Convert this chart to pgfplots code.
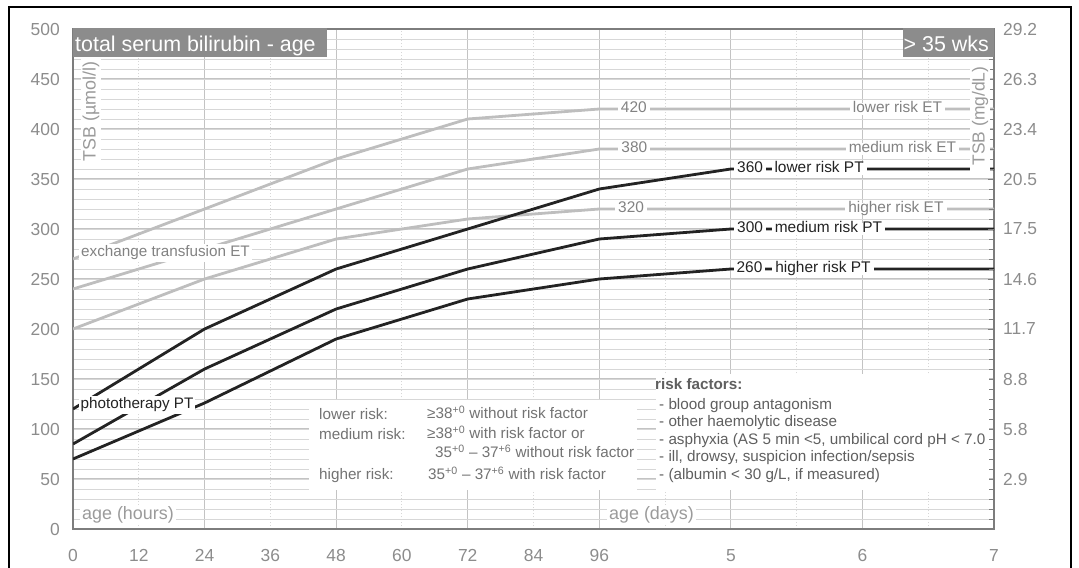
\documentclass[border=0pt]{standalone}
\usepackage{fontspec}
\setmainfont{Liberation Sans}
\usepackage{pgfplots}
\pgfplotsset{compat=1.18}
\definecolor{etgray}{RGB}{190,190,190}
\definecolor{ptblack}{RGB}{35,35,35}
\definecolor{axgray}{RGB}{125,125,125}
\definecolor{tickgray}{RGB}{140,140,140}
\definecolor{boxgray}{RGB}{140,140,140}
\definecolor{labgray}{RGB}{155,155,155}
\definecolor{etlab}{RGB}{130,130,130}
\definecolor{gridmaj}{RGB}{195,195,195}
\definecolor{gridmin}{RGB}{215,215,215}
\definecolor{legtxt}{RGB}{115,115,115}
\definecolor{risktxt}{RGB}{95,95,95}
\newcommand{\fs}[1]{\fontsize{#1}{#1}\selectfont}
\begin{document}
\begin{tikzpicture}
\begin{axis}[
  at={(73bp,39bp)}, anchor=south west,
  scale only axis, width=921bp, height=500bp,
  xmin=0, xmax=168, ymin=0, ymax=500,
  axis line style={draw=axgray, line width=2.5bp},
  xtick={0,24,48,72,96,120,144,168},
  xticklabels={0,24,48,72,96,5,6,7},
  minor xtick={12,36,60,84,108,132,156},
  extra x ticks={12,36,60,84},
  extra x tick labels={12,36,60,84},
  extra x tick style={grid=none},
  ytick={0,50,...,500},
  yticklabels={0,50,100,150,200,250,300,350,400,450,500},
  minor ytick={10,20,...,490},
  xtick pos=bottom, ytick pos=left,
  major tick length=0pt, minor tick length=0pt,
  grid=both,
  major x grid style={draw=gridmaj, line width=1bp},
  minor x grid style={draw=gridmin, line width=1bp, dotted},
  major y grid style={draw=gridmaj, line width=1bp},
  minor y grid style={draw=gridmin, line width=0.8bp},
  xticklabel style={font=\fs{17.5}, text=tickgray, inner sep=0pt, anchor=north, yshift=-20bp},
  yticklabel style={font=\fs{17.5}, text=tickgray, inner sep=0pt, anchor=east, xshift=-13bp},
  /pgf/number format/assume math mode=true,
]
% exchange transfusion lines
\addplot[etgray, line width=2.8bp, line join=round] coordinates {(0,270)(24,320)(48,370)(72,410)(96,420)(168,420)};
\addplot[etgray, line width=2.8bp, line join=round] coordinates {(0,240)(24,280)(48,320)(72,360)(96,380)(168,380)};
\addplot[etgray, line width=2.8bp, line join=round] coordinates {(0,200)(24,250)(48,290)(72,310)(96,320)(168,320)};
% phototherapy lines
\addplot[ptblack, line width=2.8bp, line join=round] coordinates {(0,120)(24,200)(48,260)(72,300)(96,340)(120,360)(168,360)};
\addplot[ptblack, line width=2.8bp, line join=round] coordinates {(0,85)(24,160)(48,220)(72,260)(96,290)(120,300)(168,300)};
\addplot[ptblack, line width=2.8bp, line join=round] coordinates {(0,70)(24,126)(48,190)(72,230)(96,250)(120,260)(168,260)};

\tikzset{lab/.style={fill=white, font=\fs{15.5}, inner xsep=3bp, inner ysep=1.5bp, text height=1.5ex, text depth=.25ex}}
\node[lab, text=etlab] at (axis cs:102.3,420) {420};
\node[lab, text=etlab] at (axis cs:102.4,380) {380};
\node[lab, text=etlab] at (axis cs:101.8,320) {320};
\node[lab, text=etlab] at (axis cs:150.4,420) {lower risk ET};
\node[lab, text=etlab] at (axis cs:151.3,380) {medium risk ET};
\node[lab, text=etlab] at (axis cs:150.1,320) {higher risk ET};
\node[lab, text=ptblack] at (axis cs:123.5,360) {360};
\node[lab, text=ptblack] at (axis cs:136.1,360) {lower risk PT};
\node[lab, text=ptblack] at (axis cs:123.5,300) {300};
\node[lab, text=ptblack] at (axis cs:137.8,300) {medium risk PT};
\node[lab, text=ptblack] at (axis cs:123.4,260) {260};
\node[lab, text=ptblack] at (axis cs:136.8,260) {higher risk PT};
\end{axis}
\begin{axis}[
  at={(73bp,39bp)}, anchor=south west,
  scale only axis, width=921bp, height=500bp,
  xmin=0, xmax=168, ymin=0, ymax=500,
  hide x axis,
  axis y line*=right,
  y axis line style={draw=none},
  ytick={50,100,...,500},
  yticklabels={2.9,5.8,8.8,11.7,14.6,17.5,20.5,23.4,26.3,29.2},
  minor ytick={10,20,...,490},
  tick align=inside,
  major tick length=6bp, minor tick length=5bp,
  tick style={draw=axgray, line width=0.8bp},
  yticklabel style={font=\fs{17.5}, text=tickgray, inner sep=0pt, anchor=west, xshift=9bp},
]
\addplot[draw=none] coordinates {(0,0)};
\end{axis}
% title boxes
\fill[boxgray] (73bp,511bp) rectangle (327bp,540bp);
\node[anchor=base west, text=white, font=\fs{21.5}, inner sep=0pt] at (75bp,516bp) {total serum bilirubin - age};
\fill[boxgray] (903bp,511bp) rectangle (994bp,540bp);
\node[anchor=base east, text=white, font=\fs{21.5}, inner sep=0pt] at (989bp,516bp) {> 35 wks};
% axis labels
\node[fill=white, text=labgray, font=\fs{18}, rotate=90, inner xsep=3bp, inner ysep=2bp] at (91bp,456.5bp) {TSB (µmol/l)};
\node[fill=white, text=labgray, font=\fs{17.5}, rotate=90, inner xsep=6bp, inner ysep=2bp] at (980bp,452bp) {TSB (mg/dL)};
\node[fill=white, text=etlab, font=\fs{15.3}, inner sep=2bp] at (165.5bp,315bp) {exchange transfusion ET};
\node[fill=white, text=ptblack, font=\fs{15.3}, inner sep=2bp] at (137bp,163bp) {phototherapy PT};
\node[fill=white, text=labgray, font=\fs{18}, inner sep=2bp] at (128bp,53bp) {age (hours)};
\node[fill=white, text=labgray, font=\fs{18}, inner sep=2bp] at (651.5bp,53bp) {age (days)};
% legend box
\fill[white] (309bp,78bp) rectangle (637bp,168bp);
\begin{scope}[every node/.style={anchor=base west, inner sep=0pt, font=\fs{15.3}, text=legtxt}]
\node at (319bp,148bp) {lower risk:};
\node at (319bp,128bp) {medium risk:};
\node at (319bp,88bp) {higher risk:};
\node at (427bp,149bp) {≥38\textsuperscript{+0} without risk factor};
\node at (427bp,129bp) {≥38\textsuperscript{+0} with risk factor or};
\node at (435bp,110bp) {35\textsuperscript{+0} – 37\textsuperscript{+6} without risk factor};
\node at (428bp,88bp) {35\textsuperscript{+0} – 37\textsuperscript{+6} with risk factor};
\end{scope}
% risk factors box
\fill[white] (656bp,78bp) rectangle (989bp,194bp);
\begin{scope}[every node/.style={anchor=base west, inner sep=0pt, font=\fs{15.3}, text=risktxt}]
\node[font=\fs{15.3}\bfseries] at (655bp,178bp) {risk factors:};
\node at (659bp,158bp) {- blood group antagonism};
\node at (659bp,141bp) {- other haemolytic disease};
\node at (659bp,123bp) {- asphyxia (AS 5 min <5, umbilical cord pH < 7.0};
\node at (659bp,106bp) {- ill, drowsy, suspicion infection/sepsis};
\node at (659bp,88bp) {- (albumin < 30 g/L, if measured)};
\end{scope}
% outer frame
\draw[black, line width=2bp] (9bp,-5bp) -- (9bp,561bp) -- (1071bp,561bp) -- (1071bp,-5bp);
\pgfresetboundingbox
\path[use as bounding box] (0bp,0bp) rectangle (1079bp,568bp);
\end{tikzpicture}
\end{document}
